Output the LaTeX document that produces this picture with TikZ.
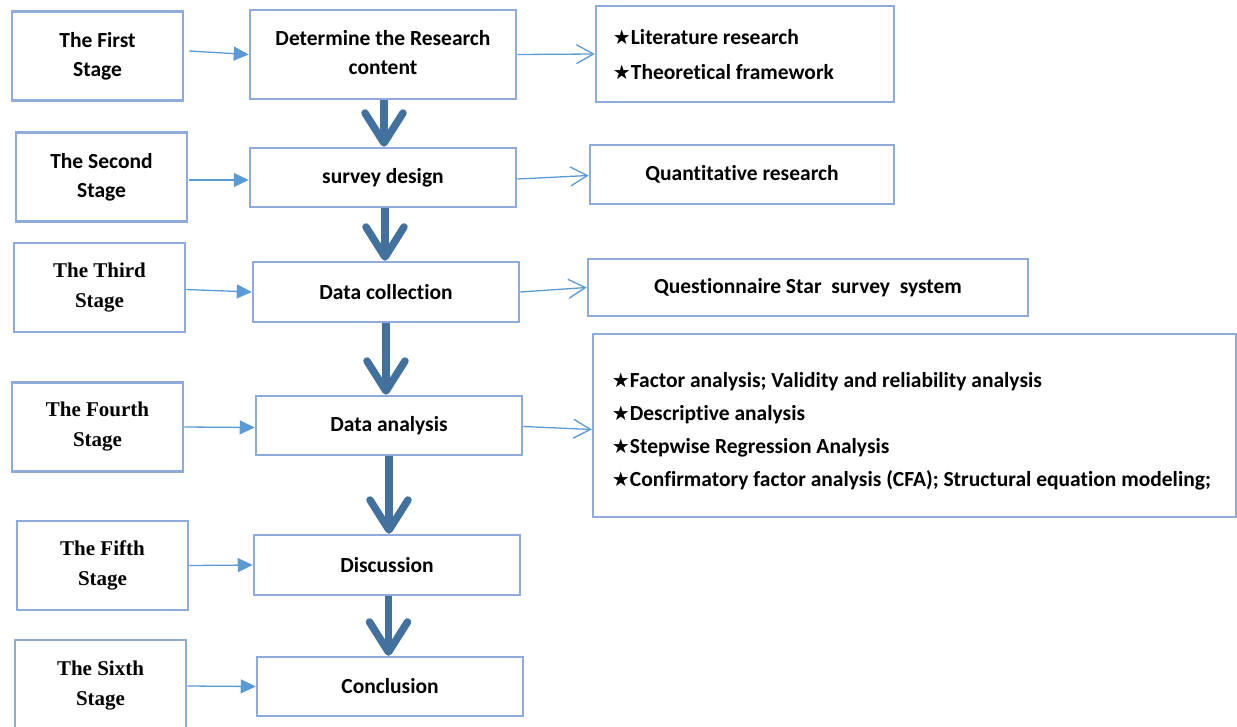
\documentclass[tikz,border=0pt]{standalone}
\usepackage{fontspec}
\setmainfont{Carlito}[Ligatures=NoCommon]
\newfontfamily\timesf{Liberation Serif}
\newfontfamily\symf{DejaVu Sans}
\usetikzlibrary{arrows.meta}
\definecolor{boxc}{RGB}{143,170,220}
\definecolor{thinc}{RGB}{91,155,213}
\definecolor{thickc}{RGB}{65,113,156}
\newcommand{\mystar}{{\symf\fontsize{20}{20}\selectfont ★}}
\begin{document}
\begin{tikzpicture}[x=1pt,y=-1pt,
 box/.style={draw=boxc, line width=2.5pt, inner sep=0pt, align=center, font=\bfseries\fontsize{21.5}{29}\selectfont},
 stagebox/.style={box, minimum width=171pt, minimum height=89pt},
 tstage/.style={font=\timesf\bfseries\fontsize{21}{30}\selectfont},
 mainbox/.style={box, minimum width=266pt, minimum height=59pt},
 listtext/.style={anchor=west, inner sep=0pt, align=left, font=\bfseries\fontsize{21.5}{35}\selectfont},
 filledarrow/.style={draw=thinc, line width=1.3pt, -{Triangle[length=15pt,width=14pt]}},
 openarrow/.style={draw=thinc, line width=1.3pt, -{Straight Barb[length=17pt,width=19pt]}},
 bigarrow/.style={draw=thickc, line width=7.5pt, -{Straight Barb[length=30pt,width=38pt,round]}},
]
\useasboundingbox (0,0) rectangle (1237,726);
% stage boxes
\node[stagebox] (s1) at (97.5,56) {The First\\Stage};
\node[stagebox] (s2) at (101.5,177) {The Second\\Stage};
\node[stagebox, tstage] (s3) at (99.5,287.5) {The Third\\Stage};
\node[stagebox, tstage] (s4) at (97.5,427) {The Fourth\\Stage};
\node[stagebox, tstage] (s5) at (102.5,565.5) {The Fifth\\Stage};
\node[stagebox, tstage, minimum height=92pt] (s6) at (100.5,686) {The Sixth\\Stage};
% main boxes
\node[mainbox, minimum height=89pt] (m1) at (383,54.5) {};
\node[inner sep=0pt, align=center, font=\bfseries\fontsize{21.5}{29}\selectfont] (m1t) at ([yshift=2pt]m1.center) {Determine the Research\\content};
\node[mainbox] (m2) at (383,177.5) {survey design};
\node[mainbox, minimum height=60pt] (m3) at (386,292) {Data collection};
\node[mainbox] (m4) at (389,425.5) {Data analysis};
\node[mainbox, minimum height=60pt] (m5) at (387,565) {Discussion};
\node[mainbox] (m6) at (390,686.5) {Conclusion};
% right boxes
\node[box, minimum width=298pt, minimum height=96pt] (r1) at (745,54) {};
\node[listtext] (r1t) at ([xshift=18pt,yshift=-1pt]r1.west)
  {\mystar Literature research\\\mystar Theoretical framework};
\node[box, minimum width=304pt, minimum height=59pt] (r2) at (742,174.5) {Quantitative research};
\node[box, minimum width=440pt, minimum height=57pt] (r3) at (808,287.5) {Questionnaire Star\ \ survey\ \ system};
\node[box, minimum width=643pt, minimum height=183pt] (r4) at (914.5,425.5) {};
\node[listtext, font=\bfseries\fontsize{21.5}{33}\selectfont] (r4t) at ([xshift=20pt,yshift=-6pt]r4.west)
  {\mystar Factor analysis; Validity and reliability analysis\\
   \mystar Descriptive analysis\\
   \mystar Stepwise Regression Analysis\\
   \mystar Confirmatory factor analysis (CFA); Structural equation modeling;};
% thin arrows
\draw[filledarrow] ([xshift=5pt,yshift=5pt]s1.east) -- (m1.west);
\draw[openarrow] (m1.east) -- (r1.west);
\draw[filledarrow] ([xshift=1pt,yshift=-3pt]s2.east) -- ([yshift=-2.5pt]m2.west);
\draw[openarrow] ([yshift=-1.5pt]m2.east) -- ([yshift=-1pt]r2.west);
\draw[filledarrow] ([yshift=-2pt]s3.east) -- (m3.west);
\draw[openarrow] (m3.east) -- (r3.west);
\draw[filledarrow] (s4.east) -- ([yshift=-2pt]m4.west);
\draw[openarrow] ([yshift=-1pt]m4.east) -- ([yshift=-4pt]r4.west);
\draw[filledarrow] (s5.east) -- (m5.west);
\draw[filledarrow] (s6.east) -- (m6.west);
% thick arrows
\draw[bigarrow] ([xshift=1pt]m1.south) -- ([xshift=1pt]m1.south |- m2.north);
\draw[bigarrow] ([xshift=2pt]m2.south) -- ([xshift=2pt]m2.south |- m3.north);
\draw[bigarrow] (m3.south) -- (m3.south |- m4.north);
\draw[bigarrow] (m4.south) -- (m4.south |- m5.north);
\draw[bigarrow] ([xshift=1.5pt]m5.south) -- ([xshift=1.5pt]m5.south |- m6.north);
\end{tikzpicture}
\end{document}
